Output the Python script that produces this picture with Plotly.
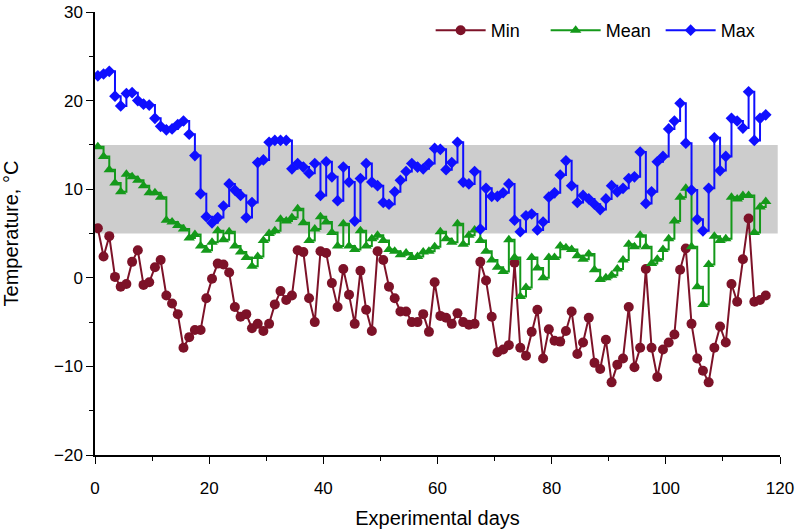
import numpy as np
import plotly.graph_objects as go

# Experimental days (one reading per day, plotted mid-day)
days = np.arange(0.5, 118.0, 1.0)

t_min = [
    5.6, 2.4, 4.7, 0.1, -1.0, -0.7, 1.8, 3.1, -0.8, -0.5,
    1.2, 2.0, -2.0, -2.9, -4.1, -7.9, -6.7, -5.9, -5.9, -2.3,
    -0.1, 1.6, 1.5, 0.6, -3.3, -4.4, -4.1, -5.7, -5.2, -6.0,
    -5.2, -3.0, -1.5, -2.5, -2.0, 3.1, 2.9, -2.3, -5.0, 3.0,
    2.8, -0.6, -3.3, 1.0, -1.9, -5.2, 0.8, -3.6, -6.0, 3.0,
    2.0, -1.0, -2.3, -3.8, -3.8, -5.0, -5.0, -4.1, -6.1, -0.5,
    -4.3, -4.5, -5.2, -4.0, -5.0, -5.3, -5.2, 1.8, -0.3, -4.4,
    -8.4, -8.1, -7.6, 1.7, -7.9, -8.8, -6.1, -3.6, -9.1, -5.8,
    -7.1, -7.2, -6.0, -3.8, -8.6, -7.3, -4.5, -9.6, -10.3, -7.0,
    -11.8, -9.8, -9.1, -3.3, -10.1, -7.9, 1.0, -7.9, -11.2, -8.1,
    -7.3, -6.4, 0.9, 3.3, -5.2, -9.1, -10.5, -11.8, -7.9, -5.5,
    -7.3, -0.7, -2.7, 2.1, 6.7, -2.7, -2.5, -2.0,
]

t_mean = [
    14.8, 13.7, 12.2, 10.7, 9.7, 11.7, 11.4, 11.0, 10.4, 9.6,
    9.6, 9.1, 6.5, 6.3, 5.9, 5.5, 4.5, 4.9, 3.6, 3.1,
    4.0, 5.3, 4.3, 5.2, 3.6, 2.9, 2.3, 1.3, 2.4, 4.2,
    5.0, 5.3, 6.6, 6.4, 6.8, 7.8, 6.2, 4.2, 5.5, 6.9,
    6.3, 5.1, 3.6, 6.1, 3.6, 3.2, 5.3, 3.6, 4.4, 4.8,
    4.2, 3.2, 3.0, 2.6, 2.8, 2.3, 2.4, 2.9, 3.0, 3.5,
    5.2, 4.4, 4.0, 6.1, 3.8, 4.8, 5.4, 4.2, 3.0, 2.0,
    1.2, 0.7, 4.3, 2.3, -2.1, -1.1, 2.3, 1.1, 0.0, 2.3,
    2.3, 3.6, 3.4, 3.2, 2.5, 2.1, 2.7, 0.9, -0.2, 0.0,
    0.3, 1.0, 2.0, 3.8, 3.5, 4.8, 3.5, 1.6, 2.1, 3.2,
    4.4, 6.4, 9.1, 10.1, 3.5, -1.0, -3.0, 1.5, 4.7, 4.2,
    4.4, 9.1, 8.9, 9.3, 9.3, 5.1, 8.0, 8.6,
]

t_max = [
    22.8, 23.0, 23.3, 20.5, 19.4, 20.8, 20.9, 20.0, 19.6, 19.5,
    18.0, 17.1, 16.7, 16.8, 17.3, 17.7, 16.2, 13.8, 9.5, 6.9,
    6.2, 6.8, 8.1, 10.6, 9.9, 9.3, 6.8, 8.5, 13.0, 13.3,
    15.3, 15.5, 15.5, 15.5, 12.3, 12.9, 12.5, 11.8, 12.9, 9.3,
    13.1, 11.4, 8.7, 12.5, 10.8, 6.4, 11.2, 12.9, 10.8, 10.4,
    8.5, 8.3, 9.7, 11.0, 12.0, 12.9, 12.5, 12.3, 12.9, 14.6,
    14.5, 12.2, 13.0, 15.3, 10.8, 10.6, 12.0, 5.5, 10.1, 9.2,
    9.2, 9.6, 10.6, 6.5, 5.2, 7.0, 7.2, 5.4, 6.3, 9.1,
    9.6, 11.6, 13.2, 10.4, 8.5, 9.3, 8.9, 8.3, 7.7, 8.9,
    10.4, 9.7, 10.1, 11.2, 11.4, 14.2, 8.4, 9.7, 13.1, 13.7,
    16.8, 17.7, 19.7, 15.2, 9.9, 6.6, 5.3, 10.1, 15.8, 12.1,
    13.7, 18.0, 17.7, 16.9, 21.0, 15.5, 18.0, 18.4,
]

# Shaded comfort band (°C)
band_low, band_high = 5, 15

x_ticks = [0, 20, 40, 60, 80, 100, 120]
y_ticks = [-20, -10, 0, 10, 20, 30]

c_min = "#7d1228"
c_mean = "#14991a"
c_max = "#0f0fff"

fig = go.Figure()

fig.add_shape(type="rect", xref="x", yref="y", x0=0, x1=119.6,
              y0=band_low, y1=band_high, fillcolor="#cdcdcd",
              line=dict(width=0), layer="below")

fig.add_trace(go.Scatter(
    x=days, y=t_min, name="Min", mode="lines+markers",
    line=dict(color=c_min, width=2),
    marker=dict(symbol="circle", size=10, color=c_min),
))
fig.add_trace(go.Scatter(
    x=days, y=t_mean, name="Mean", mode="lines+markers",
    line=dict(color=c_mean, width=2, shape="hv"),
    marker=dict(symbol="triangle-up", size=10, color=c_mean),
))
fig.add_trace(go.Scatter(
    x=days, y=t_max, name="Max", mode="lines+markers",
    line=dict(color=c_max, width=2, shape="hv"),
    marker=dict(symbol="diamond", size=9, color=c_max),
))

font_family = "Liberation Sans, Arial, Helvetica, sans-serif"

fig.update_layout(
    width=800, height=532,
    margin=dict(l=95, r=20, t=12, b=77),
    paper_bgcolor="white", plot_bgcolor="white",
    font=dict(family=font_family, size=17, color="black"),
    showlegend=True,
    legend=dict(orientation="h", x=0.49, xanchor="left",
                y=1.0, yanchor="top",
                bgcolor="rgba(0,0,0,0)", font=dict(size=18), itemwidth=50,
                entrywidth=50, entrywidthmode="pixels", tracegroupgap=0),
    xaxis=dict(
        range=[0, 120], tickvals=x_ticks, showgrid=False, zeroline=False,
        showline=True, linecolor="black", linewidth=1.5,
        ticks="outside", ticklen=7, tickwidth=1.2, tickcolor="black",
        minor=dict(dtick=10, ticks="outside", ticklen=4, tickcolor="black", showgrid=False),
        title=dict(text="Experimental days", font=dict(size=20), standoff=14),
        tickfont=dict(size=17), automargin=False, ticklabelstandoff=10,
    ),
    yaxis=dict(
        range=[-20, 30], tickvals=y_ticks, showgrid=False, zeroline=False,
        showline=True, linecolor="black", linewidth=1.5,
        ticks="outside", ticklen=7, tickwidth=1.2, tickcolor="black",
        minor=dict(dtick=5, ticks="outside", ticklen=4, tickcolor="black", showgrid=False),
        title=dict(text="Temperature, °C", font=dict(size=20), standoff=30),
        tickfont=dict(size=17), tickformat="d", automargin=False,
    ),
)

fig.write_html("out.html", config={"displayModeBar": False},
               post_script="document.body.style.margin='0px';")
